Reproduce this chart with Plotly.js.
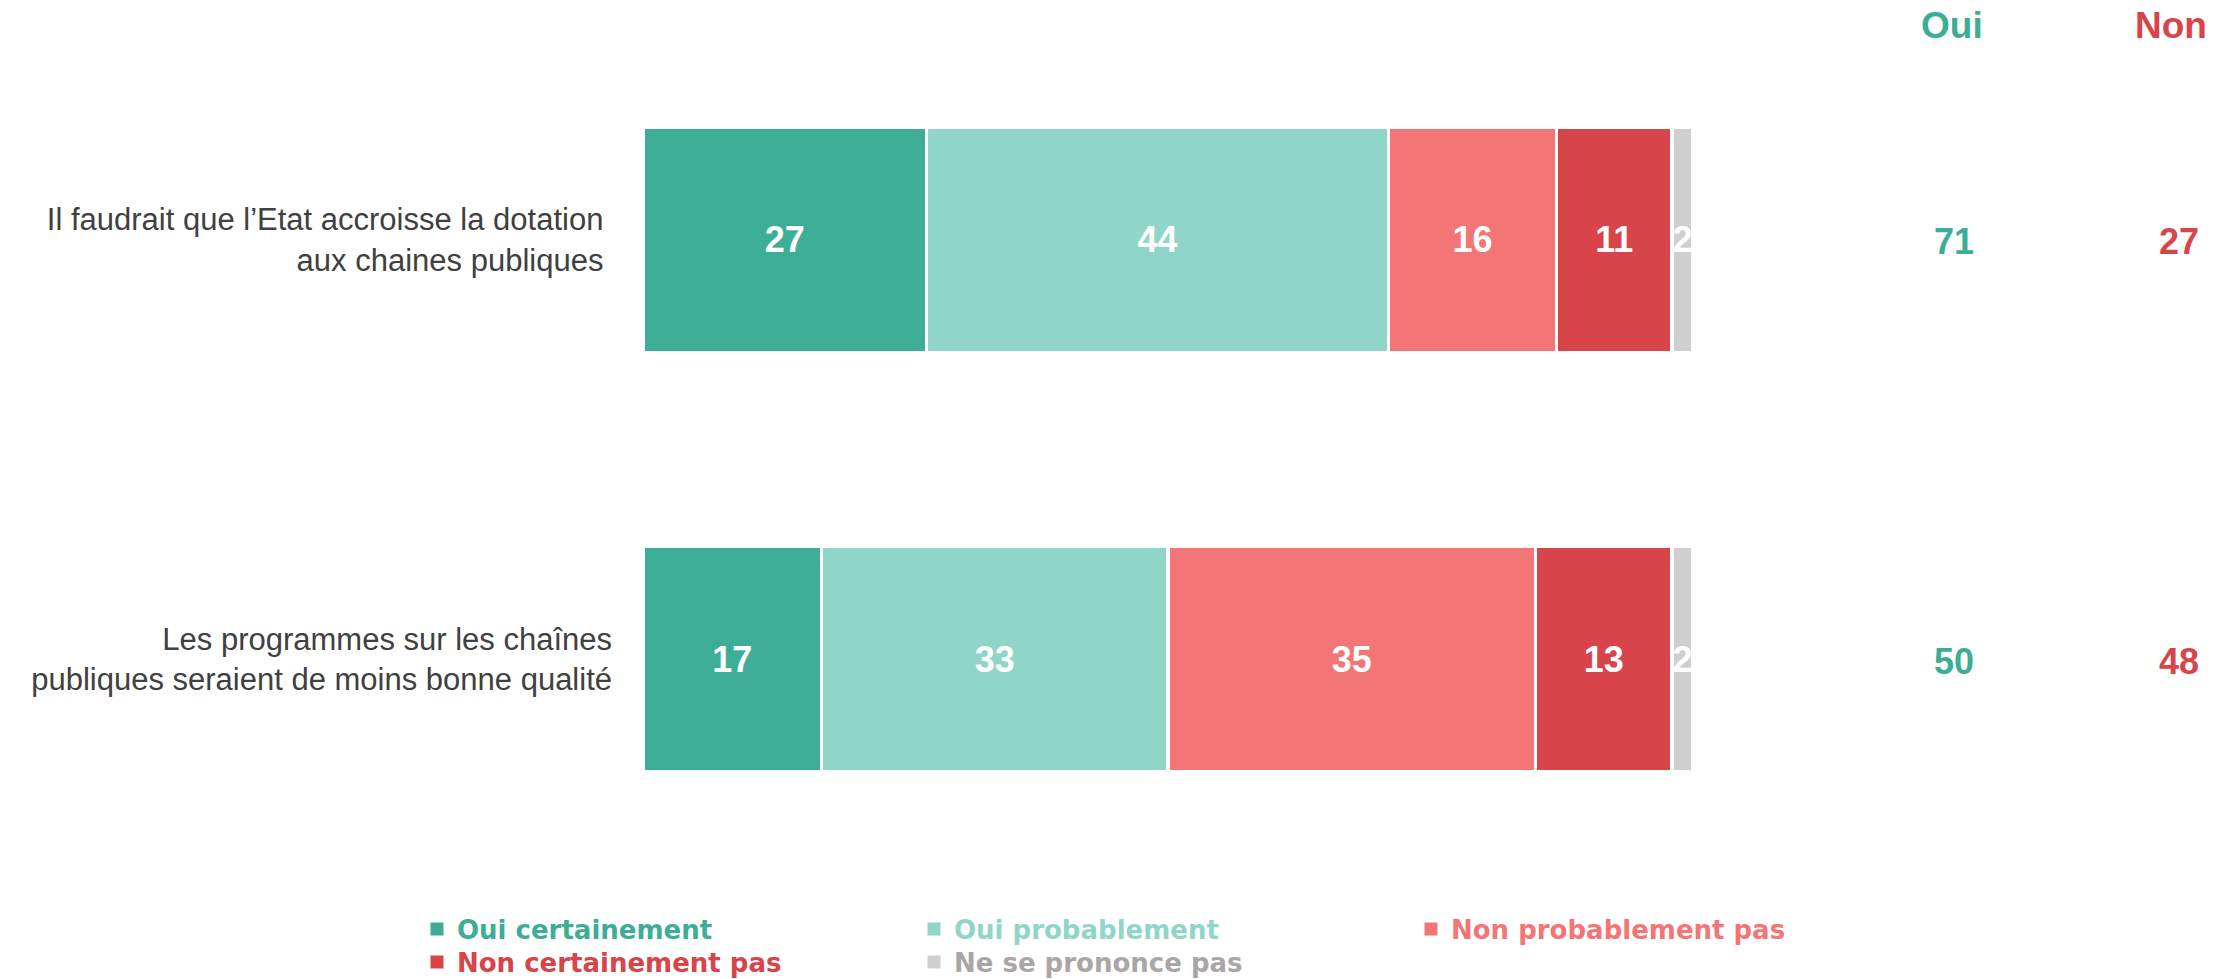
<!DOCTYPE html>
<html><head><meta charset="utf-8">
<script src="https://cdn.plot.ly/plotly-3.0.1.min.js"></script>
<style>html,body{margin:0;padding:0;background:#fff;}#chart{width:2234px;height:979px;}</style>
</head><body><div id="chart"></div>
<script>
const categories = ["Il faudrait que l’Etat accroisse la dotation\u00A0<br>aux chaines publiques\u00A0",
                    "Les programmes sur les chaînes<br>publiques seraient de moins bonne qualité"];
const seriesNames = ["Oui certainement","Oui probablement","Non probablement pas","Non certainement pas","Ne se prononce pas"];
const seriesColors = ["#3EAD95","#8FD6C8","#F37576","#D7444A","#D0CFCF"];
const legendTextColors = ["#3EAD95","#8FD6C8","#F37576","#D7444A","#AAA6A6"];
const ouiCertainement = [27,17];
const ouiProbablement = [44,33];
const nonProbablement = [16,35];
const nonCertainement = [11,13];
const nePrononcePas = [2,2];
const ouiTotal = [71,50];
const nonTotal = [27,48];
const headerLabels = ["Oui","Non"];
const legendRows = ["legend","legend","legend","legend2","legend2"];

const seriesValues = [ouiCertainement, ouiProbablement, nonProbablement, nonCertainement, nePrononcePas];
const FONT = "Arial, 'Liberation Sans', sans-serif";
const LEGEND_FONT = "'DejaVu Sans', Verdana, sans-serif";

const barTraces = seriesValues.map((vals, i) => ({
  type: "bar",
  orientation: "h",
  x: vals,
  y: categories,
  name: seriesNames[i],
  showlegend: false,
  marker: {color: seriesColors[i], line: {color: "#FFFFFF", width: 3.5}},
  width: 0.537,
  text: vals.map(String),
  textposition: "inside",
  insidetextanchor: "middle",
  constraintext: "none",
  textfont: {family: FONT, size: 36, color: "#FFFFFF", weight: "bold"},
  hoverinfo: "skip"
}));

const legendTraces = seriesNames.map((nm, i) => ({
  type: "scatter",
  mode: "markers",
  x: [null], y: [null],
  name: '<span style="color:' + legendTextColors[i] + '">' + nm + '</span>',
  legend: legendRows[i],
  marker: {symbol: "square", size: 13, color: seriesColors[i]},
  hoverinfo: "skip"
}));

const annotations = [];
annotations.push({xref: "paper", yref: "paper", x: 1.247, y: 1.0, yanchor: "middle", xanchor: "center",
  text: headerLabels[0], showarrow: false, yshift: 5,
  font: {family: FONT, size: 37, color: seriesColors[0], weight: "bold"}});
annotations.push({xref: "paper", yref: "paper", x: 1.455, y: 1.0, yanchor: "middle", xanchor: "center",
  text: headerLabels[1], showarrow: false, yshift: 5,
  font: {family: FONT, size: 37, color: seriesColors[3], weight: "bold"}});
categories.forEach((c, i) => {
  annotations.push({xref: "paper", yref: "y", x: 1.2485, y: c, xanchor: "center", yanchor: "middle",
    text: String(ouiTotal[i]), showarrow: false, yshift: -2,
    font: {family: FONT, size: 36, color: seriesColors[0], weight: "bold"}});
  annotations.push({xref: "paper", yref: "y", x: 1.4624, y: c, xanchor: "center", yanchor: "middle",
    text: String(nonTotal[i]), showarrow: false, yshift: -2,
    font: {family: FONT, size: 36, color: seriesColors[3], weight: "bold"}});
});

const legendBase = {
  orientation: "h", xref: "paper", yref: "paper", xanchor: "left", yanchor: "middle",
  entrywidth: 452, entrywidthmode: "pixels", traceorder: "normal",
  font: {family: LEGEND_FONT, size: 26, weight: "bold"}, bgcolor: "rgba(0,0,0,0)", itemclick: false
};

const layout = {
  width: 2234, height: 979,
  margin: {l: 643, r: 541, t: 30, b: 110, autoexpand: false},
  paper_bgcolor: "#FFFFFF", plot_bgcolor: "#FFFFFF",
  barmode: "stack",
  showlegend: true,
  legend: Object.assign({}, legendBase, {x: (417 - 643) / 1050, y: (869 - 929) / 839}),
  legend2: Object.assign({}, legendBase, {x: (417 - 643) / 1050, y: (869 - 962) / 839}),
  xaxis: {range: [0, 100], visible: false, fixedrange: true},
  yaxis: {type: "category", range: [1.5, -0.5], showgrid: false, zeroline: false, showline: false,
    ticks: "", ticklabelstandoff: 30,
    tickfont: {family: FONT, size: 31, color: "#404040"}, fixedrange: true},
  annotations: annotations,
  font: {family: FONT}
};

Plotly.newPlot("chart", barTraces.concat(legendTraces), layout, {displayModeBar: false, responsive: false});
</script>
</body></html>
